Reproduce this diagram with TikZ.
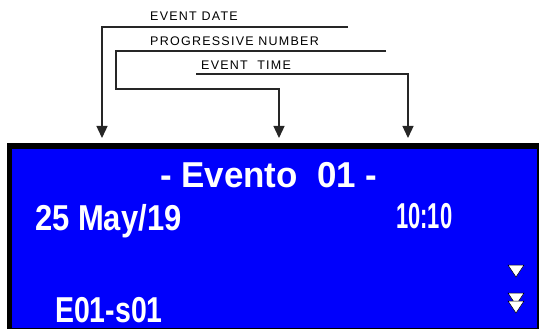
\documentclass[tikz,border=0pt]{standalone}
\usepackage{fontspec}
\setmainfont{Liberation Sans}
\usetikzlibrary{arrows.meta}
\definecolor{lcdblue}{RGB}{0,0,252}

\tikzset{
  tag/.style={anchor=base west, inner sep=0pt,
    font=\fontsize{12.5}{13}\selectfont\addfontfeatures{LetterSpace=10}},
  lead/.style={line width=1.3pt, black!85},
  tip/.style={-{Triangle[width=11pt,length=12pt]}},
  lcd/.style={anchor=base west, inner sep=0pt, text=white,
    font=\fontsize{36}{36}\selectfont\bfseries},
  marker/.style={fill=white, draw=black, line width=0.5pt}
}

\begin{document}
\begin{tikzpicture}[x=1pt,y=-1pt]
    \useasboundingbox (0,0) rectangle (539,329);

    % display panel
    \fill[black] (7,143) rectangle (542,332);
    \fill[lcdblue] (12,149) rectangle (537,328);

    \node[lcd] (title) at (160,187) {\scalebox{.97}[1]{- Evento~ 01 -}};
    \node[lcd] (day) at (35,230) {\scalebox{.86}[1]{25 May/19}};
    \node[lcd] (clock) at (396,229) {\scalebox{.61}[1]{10:10}};
    \node[lcd] (code) at (55,322) {\scalebox{.79}[1]{E01-s01}};

    % scroll markers
    \foreach \ty in {265,293,301}
        \draw[marker] (508,\ty) -- (524,\ty) -- (516,\ty+12) -- cycle;

    % labels
    \node[tag] (date) at (150,21) {EVENT DATE};
    \node[tag] (prog) at (150,46) {PROGRESSIVE NUMBER};
    \node[tag] (time) at (201,70) {EVENT~ TIME};

    % leaders
    \coordinate (d0) at (348,27);
    \coordinate (d1) at (102,27);
    \coordinate (d2) at (102,138);
    \draw[lead,tip] (d0) -- (d1) -- (d2);

    \coordinate (p0) at (386,51);
    \coordinate (p1) at (116,51);
    \coordinate (p2) at (116,89);
    \coordinate (p3) at (279,89);
    \coordinate (p4) at (279,138);
    \draw[lead,tip] (p0) -- (p1) -- (p2) -- (p3) -- (p4);

    \coordinate (t0) at (196,74);
    \coordinate (t1) at (408,74);
    \coordinate (t2) at (408,138);
    \draw[lead,tip] (t0) -- (t1) -- (t2);

\end{tikzpicture}
\end{document}
